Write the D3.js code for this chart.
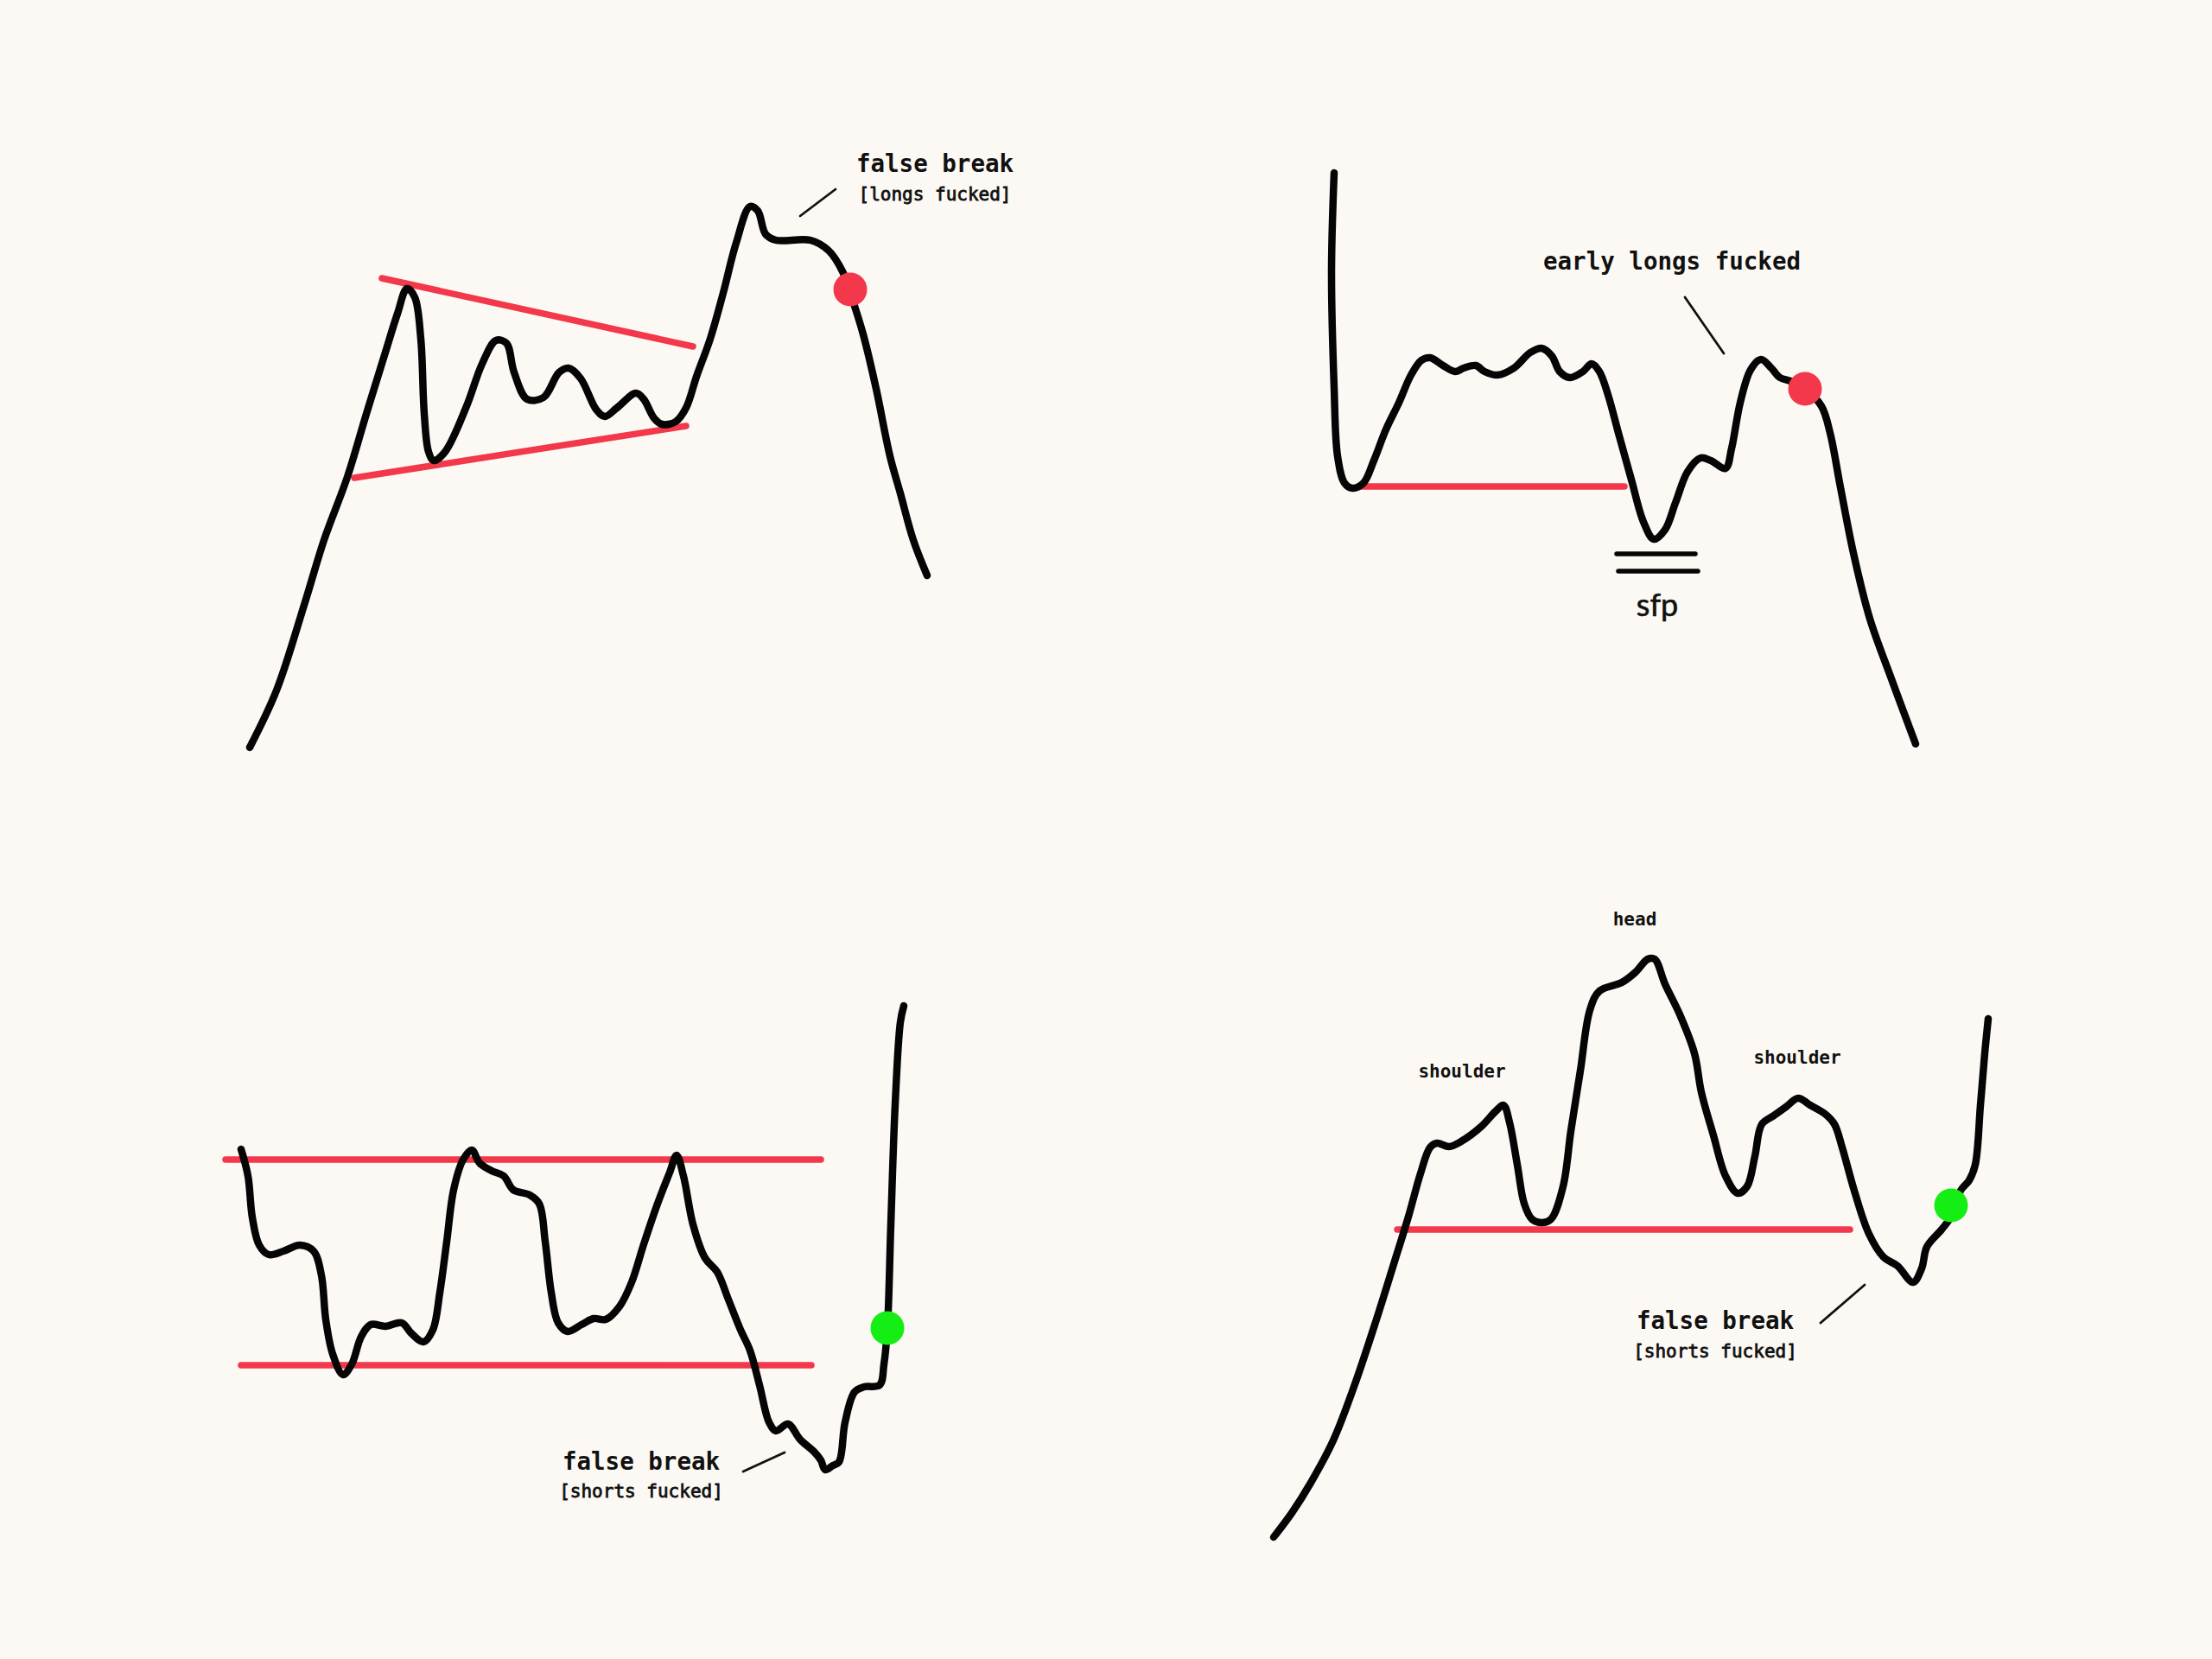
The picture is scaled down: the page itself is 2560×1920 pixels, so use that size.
<!DOCTYPE html>
<html>
<head>
<meta charset="utf-8">
<script src="https://cdn.jsdelivr.net/npm/d3@7"></script>
<style>
  html, body { margin: 0; padding: 0; background: #fcf9f4; }
  svg { display: block; }
</style>
</head>
<body>
<svg id="chart" width="2560" height="1920"></svg>
<script>
// ---------- DATA (time units along x, price units along y, per panel) ----------
// Panel 1: symmetrical triangle, false break up
const p1Price = [[9,5],[40,71],[73,173],[95,245],[122,318],[144,391],[165,459],[180,507],[191,536],[200,526],[207,478],[211,391],[216,347],[222,337],[235,347],[260,400],[278,449],[294,476],[306,473],[315,439],[330,408],[349,410],[367,439],[378,444],[392,432],[410,396],[420,388],[434,398],[456,415],[465,408],[477,386],[486,379],[502,382],[514,398],[526,434],[542,478],[557,531],[572,589],[588,631],[597,626],[606,599],[618,592],[658,592],[679,580],[695,556],[704,531],[719,483],[734,420],[750,342],[762,299],[777,245],[793,204]];
const p1Lines = [[[162,548],[522,469]], [[130,317],[514,377]]];
const p1Dot = [704,535];
const p1Leader = [[646,620],[687,651]];
const p1Labels = [{t:802, p:671, text:"false break", kind:"big"}, {t:802, p:638, text:"[longs fucked]", kind:"small"}];

// Panel 2: range, sfp, early longs fucked
const p2Price = [[4,670],[1,556],[4,422],[8,342],[16,311],[25,305],[38,311],[50,337],[64,373],[79,404],[93,436],[105,453],[115,456],[130,447],[144,440],[154,444],[168,447],[178,440],[193,436],[212,444],[231,462],[244,467],[256,458],[265,440],[277,433],[292,440],[302,449],[311,440],[321,413],[333,369],[348,315],[362,266],[374,246],[387,257],[399,288],[413,324],[428,340],[440,337],[457,328],[464,351],[474,404],[486,442],[498,454],[510,444],[520,433],[532,429],[549,420],[568,400],[578,369],[590,306],[605,230],[624,154],[648,87],[677,9]];
const p2Lines = [[[33,307],[340,307]]];
const p2Dot = [549,420];
const p2Sfp = [[[331,229],[422,229]], [[333,209],[425,209]]];
const p2Leader = [[410,526],[455,461]];
const p2Labels = [{t:395, p:558, text:"early longs fucked", kind:"big"}, {t:378, p:157, text:"sfp", kind:"hand"}];

// Panel 3: range, false break down
const p3Price = [[29,390],[37,359],[42,311],[50,279],[61,268],[78,272],[97,279],[113,272],[122,244],[127,193],[135,153],[147,129],[157,141],[168,173],[179,187],[196,185],[215,189],[226,177],[240,167],[251,181],[259,224],[267,283],[275,343],[286,378],[296,389],[305,374],[319,365],[333,359],[344,343],[363,337],[374,327],[381,283],[388,224],[396,189],[407,179],[423,187],[437,194],[451,193],[467,208],[481,236],[495,280],[511,327],[525,363],[533,383],[541,359],[552,303],[566,264],[580,248],[593,216],[607,181],[618,157],[629,117],[640,74],[648,64],[662,72],[676,54],[692,40],[700,30],[705,19],[714,24],[721,28],[728,74],[739,109],[750,115],[768,117],[773,141],[777,183],[781,303],[786,442],[792,537],[796,556]];
const p3Lines = [[[11,378],[700,378]], [[29,140],[689,140]]];
const p3Dot = [777,183];
const p3Leader = [[610,17],[658,39]];
const p3Labels = [{t:492, p:19, text:"false break", kind:"big"}, {t:492, p:-13, text:"[shorts fucked]", kind:"small"}];

// Panel 4: head and shoulders, false break down
const p4Price = [[4,11],[25,39],[47,74],[73,123],[98,188],[123,263],[143,327],[160,382],[174,432],[185,462],[193,467],[207,463],[221,469],[244,486],[261,504],[270,511],[277,491],[286,442],[294,397],[303,379],[314,375],[325,379],[339,417],[348,481],[359,551],[370,621],[381,643],[407,653],[423,665],[437,680],[445,680],[457,651],[474,616],[491,571],[499,526],[513,476],[527,429],[541,409],[552,417],[561,452],[569,489],[583,499],[597,509],[611,519],[625,511],[642,501],[653,489],[662,462],[676,412],[693,362],[710,335],[726,325],[744,306],[754,322],[760,347],[777,367],[788,382],[799,412],[809,424],[816,442],[822,511],[827,571],[831,611]];
const p4Lines = [[[147,367],[671,367]]];
const p4Dot = [788,395];
const p4Leader = [[637,259],[688,303]];
const p4Labels = [
  {t:515, p:252, text:"false break", kind:"big"},
  {t:515, p:219, text:"[shorts fucked]", kind:"small"},
  {t:422, p:719, text:"head", kind:"mid"},
  {t:222, p:543, text:"shoulder", kind:"mid"},
  {t:610, p:559, text:"shoulder", kind:"mid"}
];

// Panel frames (where each panel's time/price origin sits on the page)
const panels = [
  {left:280,  bottom:870,  w:820, h:720, price:p1Price, lines:p1Lines, dot:p1Dot, dotColor:"#f2384a", leaders:[p1Leader], labels:p1Labels, extra:[]},
  {left:1540, bottom:870,  w:720, h:720, price:p2Price, lines:p2Lines, dot:p2Dot, dotColor:"#f2384a", leaders:[p2Leader], labels:p2Labels, extra:p2Sfp},
  {left:250,  bottom:1720, w:820, h:620, price:p3Price, lines:p3Lines, dot:p3Dot, dotColor:"#14ee14", leaders:[p3Leader], labels:p3Labels, extra:[]},
  {left:1470, bottom:1790, w:860, h:740, price:p4Price, lines:p4Lines, dot:p4Dot, dotColor:"#14ee14", leaders:[p4Leader], labels:p4Labels, extra:[]}
];

// ---------- DRAW ----------
const svg = d3.select("#chart");
svg.append("rect").attr("width", 2560).attr("height", 1920).attr("fill", "#fcf9f4");

const fontMono = "'DejaVu Sans Mono', 'Liberation Mono', monospace";
const labelStyle = {
  big:   {size: 27.5, weight: 700, family: fontMono, stroke: 0},
  small: {size: 21,   weight: 400, family: fontMono, stroke: 0.8},
  mid:   {size: 21,   weight: 700, family: fontMono, stroke: 0},
  hand:  {size: 36,   weight: 400, family: "'Lato', 'Open Sans', sans-serif", stroke: 0.6}
};

panels.forEach(pn => {
  const x = d3.scaleLinear().domain([0, pn.w]).range([pn.left, pn.left + pn.w]);
  const y = d3.scaleLinear().domain([0, pn.h]).range([pn.bottom, pn.bottom - pn.h]);
  const g = svg.append("g");

  const straight = d3.line().x(d => x(d[0])).y(d => y(d[1]));

  // red support / resistance lines
  g.selectAll(".lvl").data(pn.lines).join("path")
    .attr("d", straight)
    .attr("fill", "none").attr("stroke", "#f2384a")
    .attr("stroke-width", 7.5).attr("stroke-linecap", "round");

  // price path
  const curve = d3.line().x(d => x(d[0])).y(d => y(d[1])).curve(d3.curveCatmullRom.alpha(0.5));
  g.append("path").datum(pn.price)
    .attr("d", curve)
    .attr("fill", "none").attr("stroke", "#050505")
    .attr("stroke-width", 8.5).attr("stroke-linecap", "round").attr("stroke-linejoin", "round");

  // extra black marks (sfp double line)
  g.selectAll(".extra").data(pn.extra).join("path")
    .attr("d", straight)
    .attr("fill", "none").attr("stroke", "#050505")
    .attr("stroke-width", 5.5).attr("stroke-linecap", "round");

  // leader lines
  g.selectAll(".leader").data(pn.leaders).join("path")
    .attr("d", straight)
    .attr("fill", "none").attr("stroke", "#111")
    .attr("stroke-width", 2.8).attr("stroke-linecap", "round");

  // signal dot
  g.append("circle")
    .attr("cx", x(pn.dot[0])).attr("cy", y(pn.dot[1]))
    .attr("r", 19.5).attr("fill", pn.dotColor);

  // labels
  g.selectAll(".lbl").data(pn.labels).join("text")
    .attr("x", d => x(d.t)).attr("y", d => y(d.p))
    .attr("text-anchor", "middle")
    .attr("font-family", d => labelStyle[d.kind].family)
    .attr("font-size", d => labelStyle[d.kind].size)
    .attr("font-weight", d => labelStyle[d.kind].weight)
    .attr("fill", "#111")
    .attr("stroke", "#111")
    .attr("stroke-width", d => labelStyle[d.kind].stroke)
    .text(d => d.text);
});
</script>
</body>
</html>
